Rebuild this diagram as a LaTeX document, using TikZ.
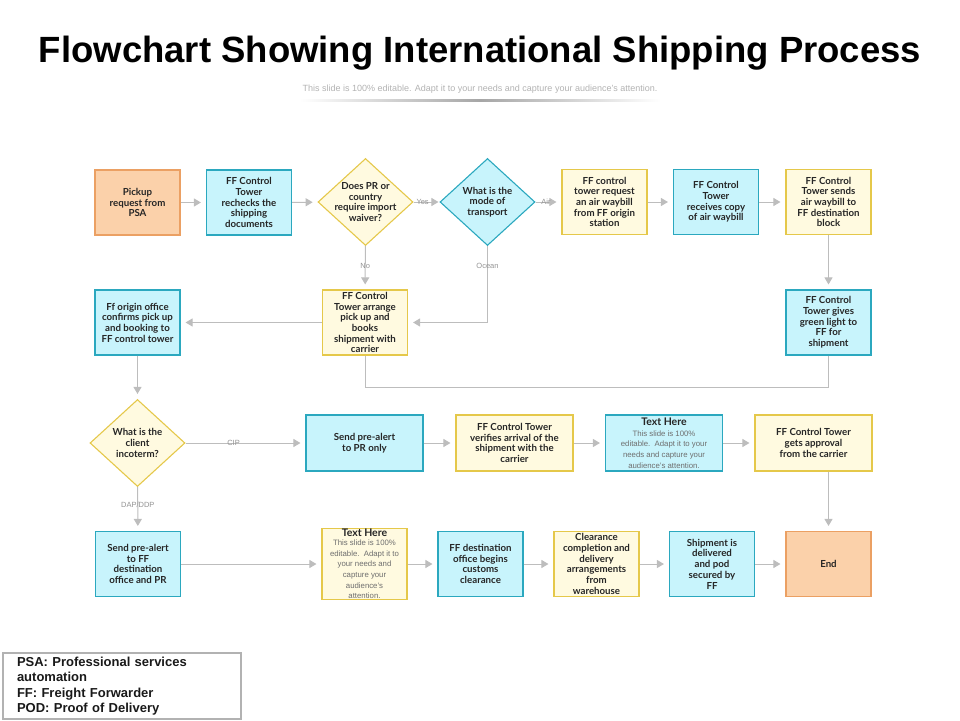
\documentclass[tikz,border=0pt]{standalone}
\usepackage{fontspec}
\setmainfont{Liberation Sans}
\newfontfamily\boxfont{Lato}
\usetikzlibrary{shapes.geometric,arrows.meta}
\definecolor{orfill}{HTML}{FBD1AA}
\definecolor{ordraw}{HTML}{EBA063}
\definecolor{cyfill}{HTML}{C8F4FC}
\definecolor{cydraw}{HTML}{2BA8BF}
\definecolor{yefill}{HTML}{FFFAE0}
\definecolor{yedraw}{HTML}{E5C84A}
\definecolor{conn}{HTML}{BDBDBD}
\definecolor{boxtext}{HTML}{262626}
\definecolor{bodygray}{HTML}{6E6E6E}
\newcommand\slideline[1]{{\rmfamily\mdseries\color{bodygray}\fontsize{7.8}{9.6}\selectfont #1}}
\tikzset{
  box/.style={rectangle,draw,line width=1.1pt,minimum width=85pt,minimum height=65pt,
    inner sep=1pt,align=center,text=boxtext,font=\boxfont\bfseries\fontsize{9.7}{10.7}\selectfont},
  widebox/.style={minimum width=117pt,minimum height=56pt},
  orbox/.style={box,fill=orfill,draw=ordraw},
  cybox/.style={box,fill=cyfill,draw=cydraw},
  yebox/.style={box,fill=yefill,draw=yedraw},
  dec/.style={diamond,draw,line width=1.1pt,minimum width=95pt,minimum height=87pt,inner sep=0pt},
  dectext/.style={align=center,text=boxtext,font=\boxfont\bfseries\fontsize{9.7}{10.7}\selectfont},
  line/.style={draw=conn,line width=1pt},
  flow/.style={line,-{Triangle[width=8pt,length=7pt]},shorten >=5pt},
  tag/.style={font=\fontsize{7.5}{8}\selectfont,text=gray!85}
}
\begin{document}
\begin{tikzpicture}[x=1pt,y=-1pt]
\useasboundingbox (0,0) rectangle (960,720);
% title
\node (title) at (480,53) {\fontsize{36.5}{40}\selectfont\bfseries Flowchart Showing International Shipping Process};
\node[text=gray!60,font=\fontsize{9}{10}\selectfont] (subtitle) at (480,89) {This slide is 100\% editable. Adapt it to your needs and capture your audience's attention.};
\shade[left color=white,right color=white,middle color=gray!70] (300,99) rectangle (660,101.5);

% row 1
\node[orbox] (pickup) at (137.5,202.5) {Pickup\\request from\\PSA};
\node[cybox] (recheck) at (249,202.5) {FF Control\\Tower\\rechecks the\\shipping\\documents};
\node[dec,fill=yefill,draw=yedraw,label={[dectext]center:Does PR or\\country\\require import\\waiver?}] (d1) at (365.5,202) {};
\node[dec,fill=cyfill,draw=cydraw,label={[dectext]center:What is the\\mode of\\transport}] (d2) at (487.5,202) {};
\node[yebox] (request) at (604.5,202) {FF control\\tower request\\an air waybill\\from FF origin\\station};
\node[cybox] (receives) at (716,202) {FF Control\\Tower\\receives copy\\of air waybill};
\node[yebox] (sends) at (828.5,202) {FF Control\\Tower sends\\air waybill to\\FF destination\\block};

% row 2
\node[cybox] (origin) at (137.5,322.5) {Ff origin office\\confirms pick up\\and booking to\\FF control tower};
\node[yebox] (arrange) at (365,322.5) {FF Control\\Tower arrange\\pick up and\\books\\shipment with\\carrier};
\node[cybox] (green) at (828.5,322.5) {FF Control\\Tower gives\\green light to\\FF for\\shipment};

% row 3
\node[dec,fill=yefill,draw=yedraw,label={[dectext]center:What is the\\client\\incoterm?}] (d3) at (137.5,443) {};
\node[cybox,widebox] (pronly) at (364.5,443) {Send pre-alert\\to PR only};
\node[yebox,widebox] (verify) at (514.5,443) {FF Control Tower\\verifies arrival of the\\shipment with the\\carrier};
\node[cybox,widebox] (text1) at (664,443) {{\fontsize{10.5}{11}\selectfont Text Here}\\\slideline{This slide is 100\%}\\\slideline{editable.\ \ Adapt it to your}\\\slideline{needs and capture your}\\\slideline{audience's attention.}};
\node[yebox,widebox] (approval) at (813.5,443) {FF Control Tower\\gets approval\\from the carrier};

% row 4
\node[cybox] (sendff) at (138,564) {Send pre-alert\\to FF\\destination\\office and PR};
\node[yebox] (text2) at (364.5,564) {{\fontsize{10.5}{10}\selectfont Text Here}\\[-2pt]\slideline{This slide is 100\%}\\\slideline{editable.\ \ Adapt it to}\\\slideline{your needs and}\\\slideline{capture your}\\\slideline{audience's}\\\slideline{attention.}};
\node[cybox] (dest) at (480.5,564) {FF destination\\office begins\\customs\\clearance};
\node[yebox] (clear) at (596.5,564) {Clearance\\completion and\\delivery\\arrangements\\from\\warehouse};
\node[cybox] (deliv) at (712,564) {Shipment is\\delivered\\and pod\\secured by\\FF};
\node[orbox] (end) at (828.5,564) {End};

% connectors
\draw[flow] (pickup) -- (recheck);
\draw[flow] (recheck) -- (d1);
\draw[flow,shorten >=1pt] (d1) -- node[tag,pos=0.35]{Yes} (d2);
\draw[flow] (d2) -- node[tag,pos=0.4]{Air} (request);
\draw[flow] (request) -- (receives);
\draw[flow] (receives) -- (sends);
\draw[flow] (sends) -- (green);
\draw[flow] (d1) -- node[tag,pos=0.45]{No} (arrange);
\draw[flow] (d2.south) |- node[tag,pos=0.13]{Ocean} (arrange.east);
\draw[flow] (arrange) -- (origin);
\draw[line] (green.south) -- ++(0,32) -| (arrange.south);
\draw[flow] (origin) -- (d3);
\draw[flow] (d3) -- node[tag,pos=0.4]{CIP} (pronly);
\draw[flow] (pronly) -- (verify);
\draw[flow] (verify) -- (text1);
\draw[flow] (text1) -- (approval);
\draw[flow] (end.north |- approval.south) -- (end.north);
\draw[flow] (d3) -- node[tag,pos=0.4]{DAP/DDP} (sendff);
\draw[flow] (sendff) -- (text2);
\draw[flow] (text2) -- (dest);
\draw[flow] (dest) -- (clear);
\draw[flow] (clear) -- (deliv);
\draw[flow] (deliv) -- (end);

% legend
\node[draw=gray!60,line width=2pt,minimum width=238pt,minimum height=66pt,text width=210pt,align=left,
  font=\bfseries\fontsize{13}{15.5}\selectfont,text=black!90] (legend) at (122,686)
  {PSA: Professional services\\automation\\FF: Freight Forwarder\\POD: Proof of Delivery};
\end{tikzpicture}
\end{document}
